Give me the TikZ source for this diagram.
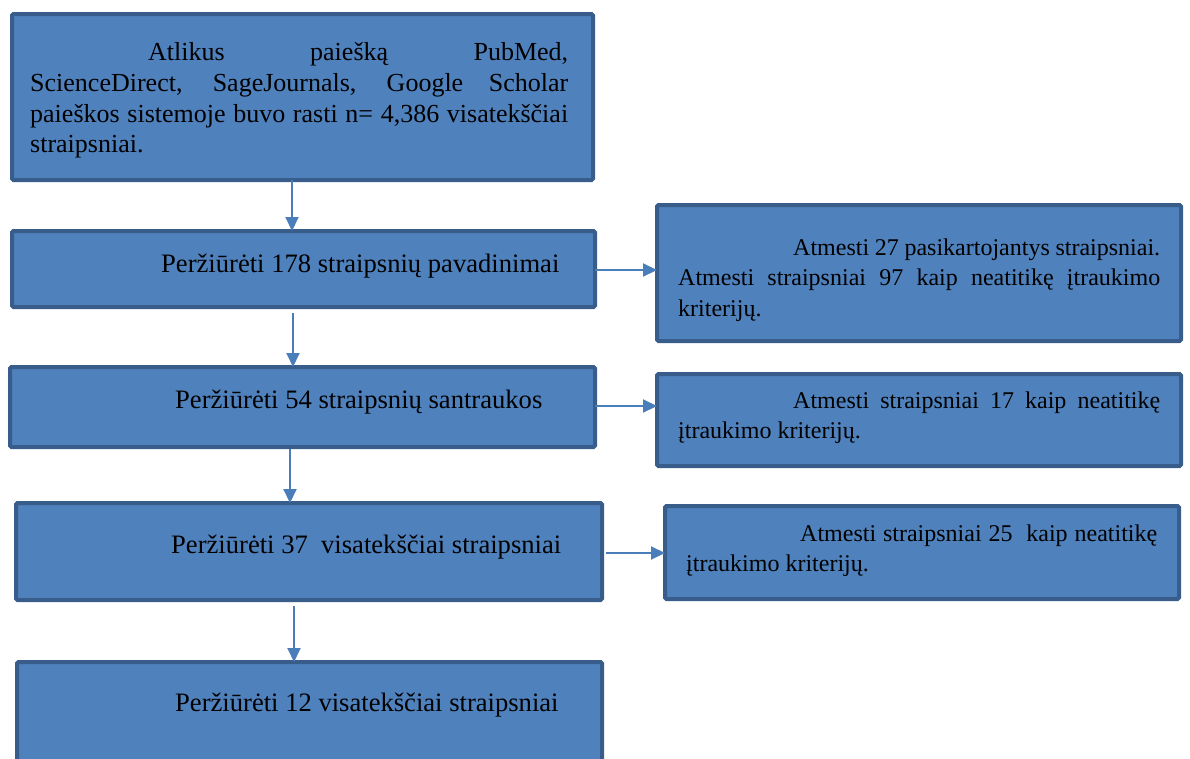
\documentclass[tikz,border=0pt]{standalone}
\usepackage{fontspec}
\setmainfont{Liberation Serif}
\usetikzlibrary{arrows.meta}
\definecolor{boxfill}{HTML}{4F81BD}
\definecolor{boxline}{HTML}{385D8A}
\definecolor{arrcol}{HTML}{4A7EBB}
\newcommand\jline[2]{\makebox[#1pt][s]{\strut #2}}
\begin{document}
\begin{tikzpicture}[x=1pt,y=-1pt,
  box/.style={draw=boxline, fill=boxfill, line width=4pt, rounded corners=1.5pt, inner sep=0pt, outer sep=0pt},
  txt/.style={font=\fontsize{24}{30.5}\selectfont, inner sep=0pt, align=left, anchor=north west},
  txta/.style={txt, font=\fontsize{26}{30.7}\selectfont},
  stxt/.style={font=\fontsize{26.6}{30.5}\selectfont, inner sep=0pt, anchor=base west},
  arr/.style={draw=arrcol, line width=2pt, -{Triangle[length=14pt,width=13pt]}}]
\useasboundingbox (0,0) rectangle (1190,758);
\clip (0,0) rectangle (1190,758);
% boxes
\node[box, minimum width=581, minimum height=166] (A) at (302.5,97) {};
\node[box, minimum width=583, minimum height=76] (B) at (303.5,269) {};
\node[box, minimum width=524, minimum height=136] (C) at (919,273) {};
\node[box, minimum width=585, minimum height=80] (D) at (302.5,407) {};
\node[box, minimum width=524, minimum height=92] (E) at (919,420) {};
\node[box, minimum width=586, minimum height=97] (F) at (309,551.5) {};
\node[box, minimum width=514, minimum height=93] (G) at (922,552.5) {};
\node[box, minimum width=585, minimum height=140] (H) at (309.5,732) {};
% texts
\node[txta] (tA) at (30,39) {\hspace*{118pt}\jline{420}{Atlikus paiešką PubMed,}\\
\jline{538}{ScienceDirect, SageJournals, Google Scholar}\\
\jline{538}{paieškos sistemoje buvo rasti n= 4,386 visatekščiai}\\
\strut straipsniai.};
\node[stxt] (tB) at (161,272) {Peržiūrėti 178 straipsnių pavadinimai};
\node[txt] (tC) at (678,233.5) {\hspace*{115pt}\jline{367}{Atmesti 27 pasikartojantys straipsniai.}\\
\jline{482}{Atmesti straipsniai 97 kaip neatitikę įtraukimo}\\
\strut kriterijų.};
\node[stxt] (tD) at (175,408) {Peržiūrėti 54 straipsnių santraukos};
\node[txt] (tE) at (678,386.5) {\hspace*{115pt}\jline{367}{Atmesti straipsniai 17 kaip neatitikę}\\
\strut įtraukimo kriterijų.};
\node[stxt] (tF) at (171,553) {Peržiūrėti 37\ \ visatekščiai straipsniai};
\node[txt] (tG) at (686,519.5) {\hspace*{114pt}\jline{357}{Atmesti straipsniai 25\ \ kaip neatitikę}\\
\strut įtraukimo kriterijų.};
\node[stxt] (tH) at (175,711) {Peržiūrėti 12 visatekščiai straipsniai};
% connectors
\draw[arr] ([xshift=-10.5pt]A.south) -- ([xshift=-11.5pt]B.north);
\draw[arr, shorten <=6pt] ([xshift=-10.5pt]B.south) -- ([xshift=-9.5pt]D.north);
\draw[arr, shorten <=2pt] ([xshift=-12.5pt]D.south) -- ([xshift=-19pt]F.north);
\draw[arr, shorten <=6pt] ([xshift=-15pt]F.south) -- ([xshift=-15.5pt]H.north);
\draw[arr] ([yshift=-1pt]B.east) -- ([yshift=-1pt]B.east -| C.west);
\draw[arr] ([yshift=1pt]D.east) -- ([yshift=1pt]D.east -| E.west);
\draw[arr, shorten <=4pt] ([yshift=-1.5pt]F.east) -- ([yshift=-1.5pt]F.east -| G.west);
\end{tikzpicture}
\end{document}
